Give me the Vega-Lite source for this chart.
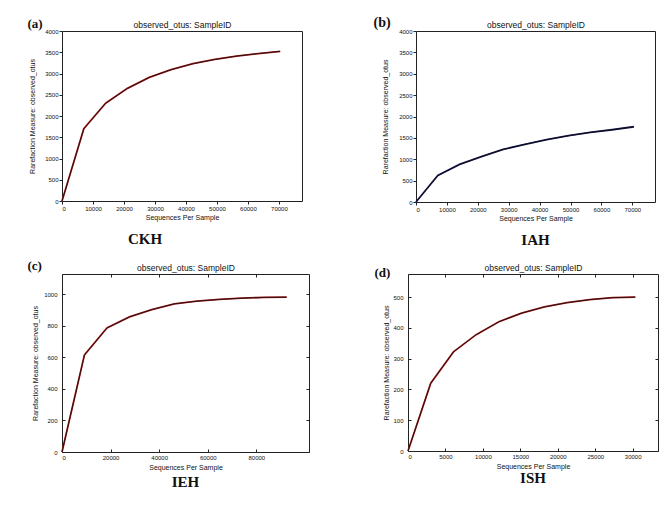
{
  "$schema": "https://vega.github.io/schema/vega-lite/v6.json",
  "padding": {"left": 26, "top": 14, "right": 0, "bottom": 0},
  "background": "white",
  "config": {
    "view": {"stroke": "#222", "strokeWidth": 1},
    "axis": {"grid": false, "domain": false, "labelFont": "Liberation Sans", "labelFontSize": 6, "labelColor": "#111", "titleFont": "Liberation Sans", "titleFontSize": 7, "titleFontWeight": "normal", "titleColor": "#111", "tickColor": "#222", "tickSize": 3, "labelPadding": 1, "format": "d"},
    "title": {"font": "Liberation Serif", "fontWeight": "bold", "fontSize": 15, "color": "#111"}
  },
  "datasets": {
    "A": [{"seq": 0, "otus": 0}, {"seq": 7040, "otus": 1700}, {"seq": 14080, "otus": 2300}, {"seq": 21120, "otus": 2650}, {"seq": 28160, "otus": 2910}, {"seq": 35200, "otus": 3090}, {"seq": 42240, "otus": 3230}, {"seq": 49280, "otus": 3330}, {"seq": 56320, "otus": 3410}, {"seq": 63360, "otus": 3470}, {"seq": 70400, "otus": 3520}],
    "B": [{"seq": 0, "otus": 0}, {"seq": 7050, "otus": 620}, {"seq": 14100, "otus": 880}, {"seq": 21150, "otus": 1060}, {"seq": 28200, "otus": 1230}, {"seq": 35250, "otus": 1350}, {"seq": 42300, "otus": 1460}, {"seq": 49350, "otus": 1550}, {"seq": 56400, "otus": 1630}, {"seq": 63450, "otus": 1690}, {"seq": 70500, "otus": 1760}],
    "C": [{"seq": 0, "otus": 0}, {"seq": 9250, "otus": 615}, {"seq": 18500, "otus": 785}, {"seq": 27750, "otus": 855}, {"seq": 37000, "otus": 902}, {"seq": 46250, "otus": 938}, {"seq": 55500, "otus": 955}, {"seq": 64750, "otus": 966}, {"seq": 74000, "otus": 974}, {"seq": 83250, "otus": 979}, {"seq": 92500, "otus": 980}],
    "D": [{"seq": 0, "otus": 0}, {"seq": 3035, "otus": 220}, {"seq": 6070, "otus": 322}, {"seq": 9105, "otus": 378}, {"seq": 12140, "otus": 420}, {"seq": 15175, "otus": 448}, {"seq": 18210, "otus": 468}, {"seq": 21245, "otus": 482}, {"seq": 24280, "otus": 492}, {"seq": 27315, "otus": 498}, {"seq": 30350, "otus": 500}]
  },
  "spacing": 9,
  "vconcat": [
    {
      "spacing": 69,
      "hconcat": [
        {
          "width": 240, "height": 170,
          "data": {"name": "A"},
          "title": {"text": "CKH", "orient": "bottom", "offset": 12, "dx": -37},
          "layer": [
            {"mark": {"type": "line", "color": "#b01c1c", "strokeWidth": 1.8},
             "encoding": {
               "x": {"field": "seq", "type": "quantitative", "scale": {"domain": [0, 77440], "nice": false, "zero": true},
                     "axis": {"values": [0, 10000, 20000, 30000, 40000, 50000, 60000, 70000], "title": "Sequences Per Sample", "titlePadding": 2}},
               "y": {"field": "otus", "type": "quantitative", "scale": {"domain": [0, 4000], "nice": false},
                     "axis": {"values": [0, 500, 1000, 1500, 2000, 2500, 3000, 3500, 4000], "title": "Rarefaction Measure: observed_otus", "titlePadding": 9}}
             }},
            {"mark": {"type": "line", "color": "#1a1010", "strokeWidth": 0.9},
             "encoding": {
               "x": {"field": "seq", "type": "quantitative", "axis": {"orient": "top", "labels": false, "ticks": false, "title": "observed_otus: SampleID", "titleFontSize": 8.5, "titlePadding": 2}},
               "y": {"field": "otus", "type": "quantitative", "axis": {"orient": "right", "labels": false, "ticks": false, "title": "(a)", "titleAngle": 0, "titleX": -275, "titleY": -4, "titleAlign": "left", "titleBaseline": "alphabetic", "titleFont": "Liberation Serif", "titleFontWeight": "bold", "titleFontSize": 13}}
             }}
          ],
          "resolve": {"axis": {"x": "independent", "y": "independent"}}
        },
        {
          "width": 239, "height": 171,
          "data": {"name": "B"},
          "title": {"text": "IAH", "orient": "bottom", "offset": 12},
          "layer": [
            {"mark": {"type": "line", "color": "#1a1a55", "strokeWidth": 1.8},
             "encoding": {
               "x": {"field": "seq", "type": "quantitative", "scale": {"domain": [0, 77340], "nice": false, "zero": true},
                     "axis": {"values": [0, 10000, 20000, 30000, 40000, 50000, 60000, 70000], "title": "Sequences Per Sample", "titlePadding": 2}},
               "y": {"field": "otus", "type": "quantitative", "scale": {"domain": [0, 4000], "nice": false},
                     "axis": {"values": [0, 500, 1000, 1500, 2000, 2500, 3000, 3500, 4000], "title": "Rarefaction Measure: observed_otus", "titlePadding": 10}}
             }},
            {"mark": {"type": "line", "color": "#0a0a14", "strokeWidth": 0.9},
             "encoding": {
               "x": {"field": "seq", "type": "quantitative", "axis": {"orient": "top", "labels": false, "ticks": false, "title": "observed_otus: SampleID", "titleFontSize": 8.5, "titlePadding": 2}},
               "y": {"field": "otus", "type": "quantitative", "axis": {"orient": "right", "labels": false, "ticks": false, "title": "(b)", "titleAngle": 0, "titleX": -282, "titleY": -5, "titleAlign": "left", "titleBaseline": "alphabetic", "titleFont": "Liberation Serif", "titleFontWeight": "bold", "titleFontSize": 14}}
             }}
          ],
          "resolve": {"axis": {"x": "independent", "y": "independent"}}
        }
      ]
    },
    {
      "spacing": 63,
      "hconcat": [
        {
          "width": 247, "height": 178,
          "data": {"name": "C"},
          "title": {"text": "IEH", "orient": "bottom", "offset": 5},
          "layer": [
            {"mark": {"type": "line", "color": "#b01c1c", "strokeWidth": 1.8},
             "encoding": {
               "x": {"field": "seq", "type": "quantitative", "scale": {"domain": [0, 101700], "nice": false, "zero": true},
                     "axis": {"values": [0, 20000, 40000, 60000, 80000], "title": "Sequences Per Sample", "titlePadding": 3, "tickSize": -3, "labelPadding": 5}},
               "y": {"field": "otus", "type": "quantitative", "scale": {"domain": [0, 1127], "nice": false},
                     "axis": {"values": [0, 200, 400, 600, 800, 1000], "title": "Rarefaction Measure: observed_otus", "titlePadding": 5, "tickSize": -3, "labelPadding": 8}}
             }},
            {"mark": {"type": "line", "color": "#1a1010", "strokeWidth": 0.9},
             "encoding": {
               "x": {"field": "seq", "type": "quantitative", "axis": {"orient": "top", "labels": false, "values": [0, 20000, 40000, 60000, 80000], "tickSize": 3, "offset": -3, "title": "observed_otus: SampleID", "titleFontSize": 8.5, "titlePadding": 1}},
               "y": {"field": "otus", "type": "quantitative", "axis": {"orient": "right", "labels": false, "values": [0, 200, 400, 600, 800, 1000], "tickSize": 3, "offset": -3, "title": "(c)", "titleAngle": 0, "titleX": -279, "titleY": -5, "titleAlign": "left", "titleBaseline": "alphabetic", "titleFont": "Liberation Serif", "titleFontWeight": "bold", "titleFontSize": 13}}
             }}
          ],
          "resolve": {"axis": {"x": "independent", "y": "independent"}}
        },
        {
          "width": 250, "height": 177,
          "data": {"name": "D"},
          "title": {"text": "ISH", "orient": "bottom", "offset": 2},
          "layer": [
            {"mark": {"type": "line", "color": "#b01c1c", "strokeWidth": 1.8},
             "encoding": {
               "x": {"field": "seq", "type": "quantitative", "scale": {"domain": [0, 33380], "nice": false, "zero": true},
                     "axis": {"values": [0, 5000, 10000, 15000, 20000, 25000, 30000], "title": "Sequences Per Sample", "titlePadding": 3, "tickSize": -3, "labelPadding": 5}},
               "y": {"field": "otus", "type": "quantitative", "scale": {"domain": [0, 575], "nice": false},
                     "axis": {"values": [0, 100, 200, 300, 400, 500], "title": "Rarefaction Measure: observed_otus", "titlePadding": 3, "tickSize": -3, "labelPadding": 8}}
             }},
            {"mark": {"type": "line", "color": "#1a1010", "strokeWidth": 0.9},
             "encoding": {
               "x": {"field": "seq", "type": "quantitative", "axis": {"orient": "top", "labels": false, "values": [0, 5000, 10000, 15000, 20000, 25000, 30000], "tickSize": 3, "offset": -3, "title": "observed_otus: SampleID", "titleFontSize": 8.5, "titlePadding": 1}},
               "y": {"field": "otus", "type": "quantitative", "axis": {"orient": "right", "labels": false, "values": [0, 100, 200, 300, 400, 500], "tickSize": 3, "offset": -3, "title": "(d)", "titleAngle": 0, "titleX": -281, "titleY": 2, "titleAlign": "left", "titleBaseline": "alphabetic", "titleFont": "Liberation Serif", "titleFontWeight": "bold", "titleFontSize": 13}}
             }}
          ],
          "resolve": {"axis": {"x": "independent", "y": "independent"}}
        }
      ]
    }
  ]
}
